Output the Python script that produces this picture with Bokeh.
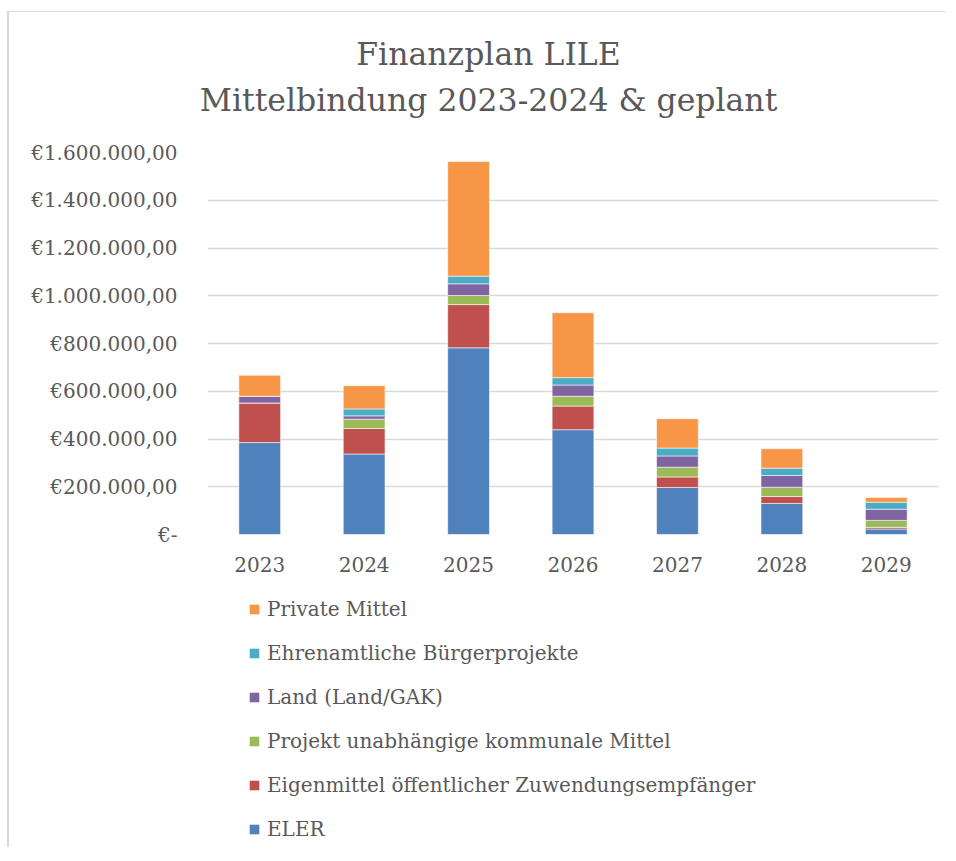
from bokeh.plotting import figure
from bokeh.models import (Range1d, FactorRange, FixedTicker, Legend, LegendItem, Label)
from bokeh.layouts import column
from bokeh.embed import file_html
from bokeh.resources import INLINE

years = ["2023", "2024", "2025", "2026", "2027", "2028", "2029"]

eler        = [385000, 337000, 782000, 439000, 197000, 130000, 23000]
eigenmittel = [166000, 107000, 181000,  99000,  44000,  29000,  7000]
projekt     = [     0,  39000,  38000,  41000,  41000,  39000, 29000]
land        = [ 28000,  14000,  49000,  47000,  47000,  49000, 47000]
ehrenamt    = [     0,  29000,  32000,  31000,  33000,  31000, 29000]
private     = [ 88000,  97000, 480000, 272000, 123000,  81000, 20000]

series_keys = ["eler", "eigen", "projekt", "land", "ehren", "privat"]
series_names = ["ELER",
                "Eigenmittel öffentlicher Zuwendungsempfänger",
                "Projekt unabhängige kommunale Mittel",
                "Land (Land/GAK)",
                "Ehrenamtliche Bürgerprojekte",
                "Private Mittel"]
colors = ["#4F81BD", "#C0504D", "#9BBB59", "#8064A2", "#4BACC6", "#F79646"]

tick_values = [0, 200000, 400000, 600000, 800000, 1000000, 1200000, 1400000, 1600000]
tick_labels = ["€-", "€200.000,00", "€400.000,00", "€600.000,00", "€800.000,00",
               "€1.000.000,00", "€1.200.000,00", "€1.400.000,00", "€1.600.000,00"]

title_lines = ["Finanzplan LILE", "Mittelbindung 2023-2024 & geplant"]

FONT = "DejaVu Serif"
TXT = "#595959"
GRID = "#d9d9d9"
W = 936


def bare(fig):
    fig.axis.visible = False
    fig.grid.visible = False
    fig.outline_line_color = None
    fig.background_fill_color = "white"
    fig.border_fill_color = "white"
    try:
        fig.frame_align = False
    except Exception:
        pass


data = dict(years=years, eler=eler, eigen=eigenmittel, projekt=projekt,
            land=land, ehren=ehrenamt, privat=private)

# ---- title panel ----
pt = figure(width=W, height=120, x_range=Range1d(0, W), y_range=Range1d(0, 120),
            output_backend="svg", toolbar_location=None,
            min_border_left=0, min_border_right=0, min_border_top=0, min_border_bottom=0)
bare(pt)
pt.add_layout(Label(x=479, y=78.5, text=title_lines[0], text_align="center",
                    text_baseline="alphabetic", text_font=FONT, text_font_size="31.5px",
                    text_color=TXT))
pt.add_layout(Label(x=479, y=32.5, text=title_lines[1], text_align="center",
                    text_baseline="alphabetic", text_font=FONT, text_font_size="31.5px",
                    text_color=TXT))

# ---- chart ----
p = figure(x_range=FactorRange(*years), y_range=Range1d(0, 1600000),
           width=W, height=453, output_backend="svg", toolbar_location=None,
           min_border_left=198, min_border_right=7, min_border_top=20,
           min_border_bottom=51)
p.outline_line_color = None
p.background_fill_color = "white"
p.border_fill_color = "white"
try:
    p.frame_align = False
except Exception:
    pass

p.vbar_stack(series_keys, x="years", width=0.4, color=colors,
             line_color="white", line_width=0.8, line_alpha=0.7, source=data)

p.xaxis.axis_line_color = None
p.xaxis.major_tick_line_color = None
p.xaxis.major_tick_out = 0
p.xaxis.major_label_standoff = 22
p.xaxis.major_label_text_font = FONT
p.xaxis.major_label_text_font_size = "20px"
p.xaxis.major_label_text_color = TXT

p.yaxis.ticker = FixedTicker(ticks=tick_values)
p.yaxis.major_label_overrides = {v: l for v, l in zip(tick_values, tick_labels)}
p.yaxis.axis_line_color = None
p.yaxis.major_tick_line_color = None
p.yaxis.minor_tick_line_color = None
p.yaxis.major_tick_out = 0
p.yaxis.major_label_standoff = 30
p.yaxis.major_label_text_font = FONT
p.yaxis.major_label_text_font_size = "20px"
p.yaxis.major_label_text_color = TXT

p.xgrid.grid_line_color = None
p.ygrid.ticker = FixedTicker(ticks=tick_values)
p.ygrid.grid_line_color = GRID
p.ygrid.grid_line_width = 1.5

# ---- legend panel (swatch renderers hidden; legend still draws them) ----
pl = figure(width=W, height=262, x_range=FactorRange(*years),
            y_range=Range1d(0, 1600000),
            output_backend="svg", toolbar_location=None,
            min_border_left=0, min_border_right=0, min_border_top=0, min_border_bottom=0)
bare(pl)
swatches = pl.vbar_stack(series_keys, x="years", width=0.4, fill_color=colors,
                         line_color=None, source=data)
for r in swatches:
    r.visible = False
items = [LegendItem(label=n, renderers=[r]) for n, r in zip(series_names, swatches)][::-1]
legend = Legend(items=items, location=(239, 6), orientation="vertical",
                padding=0, margin=0, spacing=20, glyph_width=12, glyph_height=12,
                label_standoff=7, label_text_font=FONT, label_text_font_size="20px",
                label_text_color=TXT, border_line_color=None,
                background_fill_alpha=0, label_height=24, click_policy="none")
pl.add_layout(legend, "center")

layout = column(pt, p, pl, spacing=0)
layout.styles = {"border-left": "2px solid #d9d9d9", "border-top": "1px solid #d9d9d9",
                 "margin-top": "11px", "margin-left": "7px"}

open("out.html", "w").write(file_html(layout, INLINE))
